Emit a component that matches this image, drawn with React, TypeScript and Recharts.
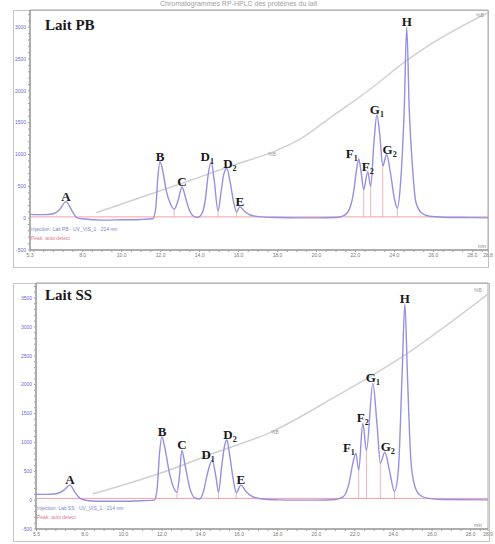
import React from "react";
import { ComposedChart, Line, Scatter, XAxis, YAxis, ReferenceLine, ReferenceArea } from "recharts";

const SERIF = '"Liberation Serif", "Times New Roman", serif';
const SANS = '"Liberation Sans", Arial, sans-serif';

// ---- Lait PB (top) ----
const pbTime = [5.3, 6.0, 6.5, 6.8, 7.15, 7.45, 7.7, 8.0, 9.0, 10.0, 11.0, 11.6, 11.75, 11.85, 11.97, 12.1, 12.3, 12.5, 12.7, 12.9, 13.1, 13.3, 13.5, 13.7, 13.9, 14.1, 14.3, 14.45, 14.6, 14.75, 14.95, 15.1, 15.25, 15.4, 15.55, 15.75, 15.9, 16.07, 16.3, 16.6, 17.0, 18.0, 19.0, 20.0, 21.0, 21.4, 21.7, 21.9, 22.05, 22.17, 22.3, 22.42, 22.63, 22.78, 22.95, 23.1, 23.25, 23.4, 23.6, 23.8, 24.0, 24.15, 24.3, 24.5, 24.63, 24.76, 24.95, 25.1, 25.4, 25.8, 26.5, 27.5, 28.8];
const pbSignal = [60, 55, 70, 130, 260, 120, 10, -10, -30, -25, -20, -10, 150, 600, 890, 760, 420, 230, 140, 280, 490, 300, 110, 30, 10, 60, 300, 700, 880, 600, 110, 400, 700, 780, 600, 250, 100, 180, 110, 50, 25, 10, 5, 5, 10, 40, 150, 400, 750, 930, 700, 450, 730, 500, 1200, 1620, 1300, 820, 1000, 700, 300, 160, 500, 1700, 3000, 1700, 700, 250, 80, 30, 15, 10, 5];
const pbGradTime = [8.7, 11.8, 14.0, 15.7, 17.8, 19.2, 20.8, 22.6, 24.6, 26.0, 28.8];
const pbGradValue = [85, 410, 645, 830, 1045, 1250, 1600, 1990, 2470, 2760, 3230];
const pbPeakNames = ["A", "B", "C", "D1", "D2", "E", "F1", "F2", "G1", "G2", "H"];
const pbPeakTimes = [7.15, 11.97, 13.1, 14.6, 15.4, 16.07, 22.17, 22.63, 23.1, 23.6, 24.63];
const pbPeakHeights = [260, 890, 490, 880, 780, 180, 930, 730, 1620, 1000, 3000];
const pbValleyTimes = [12.7, 14.95, 15.9, 22.42, 22.78, 23.4, 24.15];
const pbValleyValues = [140, 110, 100, 450, 500, 820, 160];
const pbXLabels = [5.3, 8, 10, 12, 14, 16, 18, 20, 22, 24, 26, 28, 28.8];

// ---- Lait SS (bottom) ----
const ssTime = [5.47, 6.0, 6.5, 6.9, 7.23, 7.5, 7.8, 8.2, 9.0, 10.0, 11.0, 11.6, 11.75, 11.87, 12.0, 12.15, 12.4, 12.6, 12.78, 12.9, 13.03, 13.2, 13.45, 13.7, 13.95, 14.15, 14.35, 14.6, 14.8, 14.93, 15.1, 15.25, 15.37, 15.5, 15.7, 15.85, 16.09, 16.35, 16.7, 17.2, 18.0, 19.0, 20.0, 21.0, 21.4, 21.7, 21.9, 22.05, 22.2, 22.41, 22.6, 22.93, 23.15, 23.32, 23.55, 23.8, 24.05, 24.25, 24.45, 24.59, 24.73, 24.9, 25.1, 25.4, 25.8, 26.5, 28.9];
const ssSignal = [100, 100, 110, 170, 260, 130, 20, -10, -20, -20, -10, 0, 200, 800, 1100, 900, 450, 220, 140, 400, 860, 600, 200, 40, 20, 150, 450, 690, 400, 140, 600, 950, 1040, 800, 350, 130, 260, 150, 60, 20, 5, 0, 0, 10, 60, 300, 650, 810, 520, 1330, 860, 2020, 1300, 640, 830, 500, 150, 500, 2200, 3400, 2100, 700, 250, 80, 30, 10, 5];
const ssGradTime = [8.4, 11.9, 14.7, 17.6, 20.9, 24.3, 28.9];
const ssGradValue = [105, 465, 815, 1170, 1775, 2450, 3570];
const ssPeakNames = ["A", "B", "C", "D1", "D2", "E", "F1", "F2", "G1", "G2", "H"];
const ssPeakTimes = [7.23, 12.0, 13.03, 14.6, 15.37, 16.09, 22.05, 22.41, 22.93, 23.55, 24.59];
const ssPeakHeights = [260, 1100, 860, 690, 1040, 260, 810, 1330, 2020, 830, 3400];
const ssValleyTimes = [12.78, 13.95, 14.93, 15.85, 16.7, 22.2, 22.6, 23.32, 24.05];
const ssValleyValues = [140, 20, 140, 130, 60, 520, 860, 640, 150];
const ssXLabels = [5.5, 8, 10, 12, 14, 16, 18, 20, 22, 24, 26, 28, 28.9];

const yLabels = [-500, 0, 500, 1000, 1500, 2000, 2500, 3000, 3500];

// label placement tweaks (px), as drawn in the original
const labelNudge: Record<string, number> = { D1: -4, D2: 3, F1: -7, G2: 3 };

const zip = (t: number[], v: number[]) => t.map((x, i) => ({ t: x, v: v[i] }));

function withMinor(labels: number[], lo: number, hi: number, step: number) {
  const out = [...labels];
  for (let k = Math.ceil(lo / step); k * step <= hi; k++) {
    const v = +(k * step).toFixed(2);
    if (!out.some((l) => Math.abs(l - v) < 1e-6)) out.push(v);
  }
  return out.filter((v) => v >= lo && v <= hi).sort((a, b) => a - b);
}

const PeakLabel = (props: any) => {
  const { cx, cy, payload } = props;
  const name: string = payload.name;
  const sub = name.slice(1);
  return (
    <text
      x={cx + (labelNudge[name] || 0)}
      y={cy - 1}
      textAnchor="middle"
      fontFamily={SERIF}
      fontWeight="bold"
      fontSize={13}
      fill="#1a1a1a"
    >
      {name[0]}
      {sub && (
        <tspan fontSize={8} dy={3}>
          {sub}
        </tspan>
      )}
    </text>
  );
};

interface PanelProps {
  height: number;
  margin: { top: number; right: number; bottom: number; left: number };
  yWidth: number;
  xDomain: [number, number];
  yDomain: [number, number];
  xLabels: number[];
  time: number[];
  signal: number[];
  gradTime: number[];
  gradValue: number[];
  peakNames: string[];
  peakTimes: number[];
  peakHeights: number[];
  valleyTimes: number[];
  valleyValues: number[];
  baseline: number;
}

function Panel(p: PanelProps) {
  const xTicks = withMinor(p.xLabels, p.xDomain[0], p.xDomain[1], 0.5);
  const yTicks = withMinor(yLabels, p.yDomain[0], p.yDomain[1], 100);
  const peaks = p.peakNames.map((name, i) => ({ t: p.peakTimes[i], v: p.peakHeights[i], name }));
  return (
    <ComposedChart width={495} height={p.height} margin={p.margin}>
      <XAxis
        type="number"
        dataKey="t"
        domain={p.xDomain}
        ticks={xTicks}
        interval={0}
        allowDataOverflow
        height={12}
        tickSize={2}
        tickMargin={1}
        axisLine={{ stroke: "#8a8a8a" }}
        tickLine={{ stroke: "#a0a0a0" }}
        tick={{ fontSize: 5, fill: "#777", fontFamily: SANS }}
        tickFormatter={(v: number) => (p.xLabels.some((l) => Math.abs(l - v) < 1e-6) ? v.toFixed(1) : "")}
      />
      <YAxis
        type="number"
        dataKey="v"
        domain={p.yDomain}
        ticks={yTicks}
        interval={0}
        allowDataOverflow
        width={p.yWidth}
        tickSize={2}
        tickMargin={2}
        axisLine={{ stroke: "#8a8a8a" }}
        tickLine={{ stroke: "#a0a0a0" }}
        tick={{ fontSize: 5, fill: "#6a6ad0", fontFamily: SANS }}
        tickFormatter={(v: number) => (yLabels.includes(v) ? String(v) : "")}
      />
      <ReferenceArea
        x1={p.xDomain[0]}
        x2={p.xDomain[1]}
        y1={p.yDomain[0]}
        y2={p.yDomain[1]}
        fill="none"
        stroke="#a8a8a8"
        ifOverflow="visible"
      />
      <ReferenceLine y={p.baseline} stroke="#f0a0ac" strokeWidth={1} />
      {p.valleyTimes.map((t, i) => (
        <ReferenceLine
          key={i}
          segment={[
            { x: t, y: p.baseline },
            { x: t, y: p.valleyValues[i] },
          ]}
          stroke="#f0a0ac"
          strokeWidth={0.8}
        />
      ))}
      <Line
        data={zip(p.gradTime, p.gradValue)}
        dataKey="v"
        type="monotone"
        stroke="#d0d0d0"
        strokeWidth={1.5}
        dot={false}
        isAnimationActive={false}
      />
      <Line
        data={zip(p.time, p.signal)}
        dataKey="v"
        type="monotone"
        stroke="#9590e2"
        strokeWidth={1.4}
        dot={false}
        isAnimationActive={false}
      />
      <Scatter data={peaks} dataKey="v" shape={PeakLabel} isAnimationActive={false} />
    </ComposedChart>
  );
}

const small = (color: string): React.CSSProperties => ({
  position: "absolute",
  fontFamily: SANS,
  fontSize: 5,
  lineHeight: "6px",
  color,
  whiteSpace: "nowrap",
});

const frame = (left: number, top: number, width: number, height: number): React.CSSProperties => ({
  position: "absolute",
  left,
  top,
  width,
  height,
  border: "1px solid #c4c4c4",
  boxSizing: "border-box",
});

const title: React.CSSProperties = {
  position: "absolute",
  fontFamily: SERIF,
  fontWeight: "bold",
  fontSize: 15,
  lineHeight: "15px",
  color: "#1a1a1a",
};

export default function App() {
  return (
    <div style={{ position: "absolute", left: 0, top: 0, width: 495, height: 544, background: "#fff", overflow: "hidden" }}>
      <div style={{ position: "absolute", left: 160, top: 0, fontFamily: SANS, fontSize: 7, lineHeight: "7px", color: "#a0a0a0" }}>
        Chromatogrammes RP-HPLC des protéines du lait
      </div>
      <div style={frame(13, 10, 476, 258)} />
      <div style={frame(13, 283, 477, 259)} />

      <div style={{ position: "absolute", left: 0, top: 0 }}>
        <Panel
          height={270}
          margin={{ top: 10, right: 7, bottom: 8, left: 0 }}
          yWidth={30}
          xDomain={[5.3, 28.8]}
          yDomain={[-500, 3270]}
          xLabels={pbXLabels}
          time={pbTime}
          signal={pbSignal}
          gradTime={pbGradTime}
          gradValue={pbGradValue}
          peakNames={pbPeakNames}
          peakTimes={pbPeakTimes}
          peakHeights={pbPeakHeights}
          valleyTimes={pbValleyTimes}
          valleyValues={pbValleyValues}
          baseline={20}
        />
      </div>
      <div style={{ position: "absolute", left: 0, top: 270 }}>
        <Panel
          height={274}
          margin={{ top: 13, right: 7, bottom: 3, left: 0 }}
          yWidth={36}
          xDomain={[5.47, 28.9]}
          yDomain={[-500, 3760]}
          xLabels={ssXLabels}
          time={ssTime}
          signal={ssSignal}
          gradTime={ssGradTime}
          gradValue={ssGradValue}
          peakNames={ssPeakNames}
          peakTimes={ssPeakTimes}
          peakHeights={ssPeakHeights}
          valleyTimes={ssValleyTimes}
          valleyValues={ssValleyValues}
          baseline={30}
        />
      </div>

      <div style={{ ...title, left: 45, top: 18 }}>Lait PB</div>
      <div style={{ ...title, left: 45, top: 288 }}>Lait SS</div>

      <div style={{ ...small("#7b84cc"), left: 31, top: 226 }}>Injection: Lait PB · UV_VIS_1 · 214 nm</div>
      <div style={{ ...small("#e07a8a"), left: 31, top: 235 }}>Peak: auto detect</div>
      <div style={{ ...small("#7b84cc"), left: 37, top: 505 }}>Injection: Lait SS · UV_VIS_1 · 214 nm</div>
      <div style={{ ...small("#e07a8a"), left: 37, top: 514 }}>Peak: auto detect</div>

      <div style={{ ...small("#999"), left: 476, top: 12 }}>%B</div>
      <div style={{ ...small("#999"), left: 268, top: 151 }}>%B</div>
      <div style={{ ...small("#888"), left: 478, top: 243 }}>min</div>
      <div style={{ ...small("#999"), left: 474, top: 287 }}>%B</div>
      <div style={{ ...small("#999"), left: 271, top: 429 }}>%B</div>
      <div style={{ ...small("#888"), left: 474, top: 522 }}>min</div>
    </div>
  );
}
